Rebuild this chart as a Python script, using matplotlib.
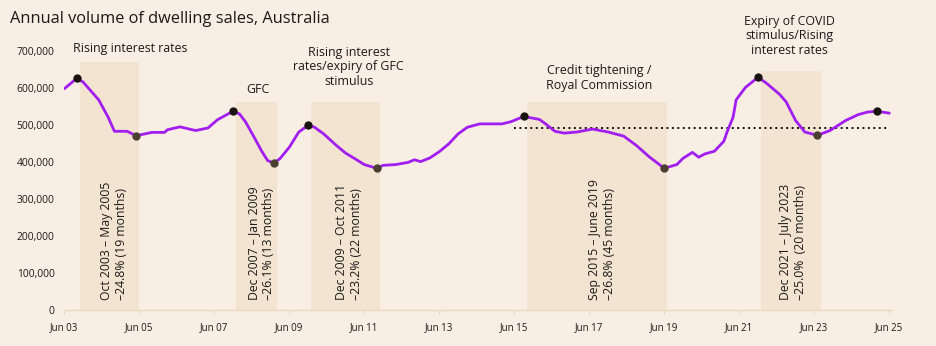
import matplotlib
matplotlib.use("Agg")
import matplotlib.pyplot as plt
import matplotlib.dates as mdates
import pandas as pd
from matplotlib.ticker import FuncFormatter

# Annual volume of dwelling sales (thousands), read at month points
months = [
    "2003-06", "2003-10", "2003-12", "2004-05", "2004-08", "2004-10", "2005-02", "2005-05",
    "2005-10", "2006-02", "2006-03", "2006-07", "2006-12", "2007-04", "2007-07", "2007-10",
    "2007-12", "2008-02", "2008-04", "2008-07", "2008-09", "2008-11", "2009-01", "2009-03",
    "2009-06", "2009-09", "2009-12", "2010-02", "2010-05", "2010-09", "2010-12", "2011-03",
    "2011-06", "2011-10", "2011-12", "2012-04", "2012-08", "2012-10", "2012-12", "2013-03",
    "2013-06", "2013-09", "2013-12", "2014-03", "2014-07", "2014-10", "2015-02", "2015-05",
    "2015-09", "2016-02", "2016-04", "2016-07", "2016-10", "2017-02", "2017-07", "2017-12",
    "2018-05", "2018-09", "2019-01", "2019-06", "2019-10", "2019-12", "2020-03", "2020-05",
    "2020-07", "2020-10", "2021-01", "2021-02", "2021-04", "2021-05", "2021-08", "2021-12",
    "2022-03", "2022-07", "2022-09", "2022-12", "2023-03", "2023-07", "2023-11", "2024-04",
    "2024-08", "2024-11", "2025-02", "2025-06",
]
sales_k = [
    598, 626, 616, 568, 521, 483, 483, 471,
    480, 480, 487, 495, 485, 492, 514, 528,
    537, 530, 508, 463, 431, 404, 397, 409,
    440, 481, 499, 494, 476, 445, 424, 409,
    393, 383, 391, 393, 399, 406, 401, 411,
    428, 449, 476, 494, 503, 503, 503, 509,
    523, 515, 503, 483, 478, 481, 489, 481,
    470, 445, 415, 383, 393, 410, 426, 413,
    422, 429, 456, 481, 521, 568, 602, 629,
    611, 582, 562, 512, 481, 472, 485, 512,
    528, 535, 537, 532,
]

peak_months = ["2003-10", "2007-12", "2009-12", "2015-09", "2021-12", "2025-02"]
trough_months = ["2005-05", "2009-01", "2011-10", "2019-06", "2023-07"]

# downturn periods
band_start = ["2003-11", "2008-01", "2010-01", "2015-10", "2022-01"]
band_end = ["2005-06", "2009-02", "2011-11", "2019-07", "2023-08"]
band_top_k = [670, 563, 563, 563, 647]
band_labels = [
    "Oct 2003 – May 2005\n–24.8% (19 months)",
    "Dec 2007 – Jan 2009\n–26.1% (13 months)",
    "Dec 2009 – Oct 2011\n–23.2% (22 months)",
    "Sep 2015 – June 2019\n–26.8% (45 months)",
    "Dec 2021 – July 2023\n–25.0%  (20 months)",
]
band_label_x = ["2004-10", "2008-09", "2011-01", "2017-10", "2022-11"]

causes = [
    "Rising interest rates",
    "GFC",
    "Rising interest\nrates/expiry of GFC\nstimulus",
    "Credit tightening /\nRoyal Commission",
    "Expiry of COVID\nstimulus/Rising\ninterest rates",
]
cause_x = ["2005-03", "2008-08", "2011-01", "2017-09", "2022-10"]
cause_y_k = [707, 596, 657, 627, 741]

avg_k = 493
avg_span = ["2015-06", "2025-06"]

BG = "#F8EEE3"
BAND = "#F2E4D1"
PURPLE = "#A21DF0"
TEXT = "#1c1a18"

plt.rcParams["font.family"] = ["Open Sans", "DejaVu Sans"]

dates = pd.to_datetime(months)
values = [v * 1000 for v in sales_k]
series = pd.Series(values, index=dates)

fig = plt.figure(figsize=(9.36, 3.46), dpi=100, facecolor=BG)
ax = fig.add_axes([0.0687, 0.104, 0.8843, 0.877])
ax.set_facecolor(BG)

for s, e, top in zip(band_start, band_end, band_top_k):
    ax.fill_between([pd.Timestamp(s), pd.Timestamp(e)], 0, top * 1000,
                    color=BAND, linewidth=0, zorder=1)

ax.plot(series.index, series.values, color=PURPLE, lw=2.0, zorder=3,
        solid_joinstyle="round", solid_capstyle="round")

ax.plot([pd.Timestamp(avg_span[0]), pd.Timestamp(avg_span[1])], [avg_k * 1000] * 2,
        color="#111111", lw=1.4, linestyle=(0, (1, 1.8)), zorder=2)

pk = series.loc[pd.to_datetime(peak_months)]
tr = series.loc[pd.to_datetime(trough_months)]
ax.scatter(pk.index, pk.values, s=36, color="#1a1410", zorder=4, linewidths=0)
ax.scatter(tr.index, tr.values, s=36, color="#4a4032", zorder=4, linewidths=0)

for lbl, x in zip(band_labels, band_label_x):
    ax.text(pd.Timestamp(x), 26000, lbl, rotation=90, ha="center", va="bottom",
            multialignment="left", fontsize=8.8, color=TEXT, zorder=5,
            linespacing=1.2)

for lbl, x, y in zip(causes, cause_x, cause_y_k):
    ax.text(pd.Timestamp(x), y * 1000, lbl, ha="center", va="center",
            fontsize=8.9, color=TEXT, linespacing=1.12, zorder=5)

ax.set_xlim(pd.Timestamp("2003-06-01"), pd.Timestamp("2025-06-27"))
ax.set_ylim(0, 820000)

ax.set_yticks(range(0, 700001, 100000))
ax.yaxis.set_major_formatter(FuncFormatter(lambda v, _: f"{int(v):,}"))
ax.set_xticks(pd.date_range("2003-06-01", "2025-06-01", freq="24MS"))
ax.xaxis.set_major_formatter(mdates.DateFormatter("%b %y"))

for side in ("top", "right", "left"):
    ax.spines[side].set_visible(False)
ax.spines["bottom"].set_color("#EBD9BF")
ax.spines["bottom"].set_linewidth(1.0)
ax.tick_params(axis="y", length=0, pad=7, labelsize=7.4, labelcolor=TEXT)
ax.tick_params(axis="x", length=3, color="#EBD9BF", pad=6, labelsize=7, labelcolor=TEXT)

fig.text(0.0107, 0.945, "Annual volume of dwelling sales, Australia",
         fontsize=11.8, color=TEXT, ha="left", va="center")

fig.savefig("out.png", dpi=100, facecolor=BG)
